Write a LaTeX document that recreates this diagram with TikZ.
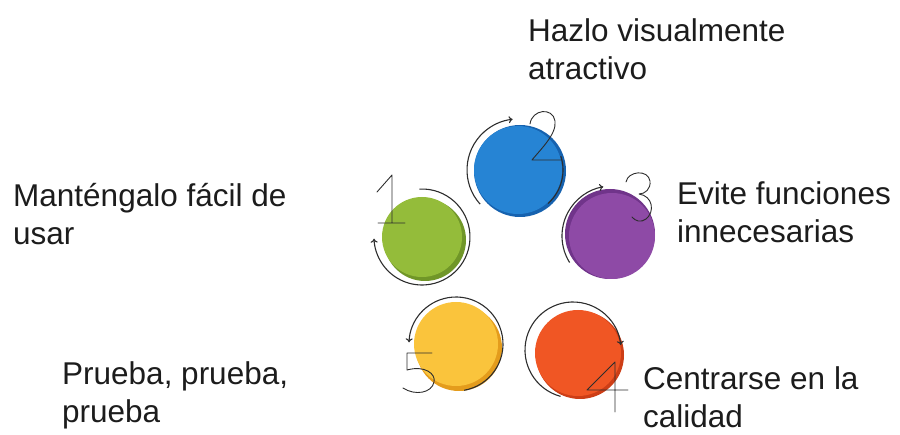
\documentclass[tikz,border=0pt]{standalone}
\usepackage{fontspec}
\setmainfont{Liberation Sans}
\usetikzlibrary{arrows.meta,calc}
\definecolor{cgreen}{RGB}{148,188,58}
\definecolor{cgreenD}{RGB}{112,150,40}
\definecolor{cblue}{RGB}{38,132,212}
\definecolor{cblueD}{RGB}{22,98,175}
\definecolor{cpurple}{RGB}{142,74,166}
\definecolor{cpurpleD}{RGB}{112,52,138}
\definecolor{cyellow}{RGB}{250,196,60}
\definecolor{cyellowD}{RGB}{228,156,28}
\definecolor{corange}{RGB}{240,86,36}
\definecolor{corangeD}{RGB}{205,62,22}
\definecolor{ink}{RGB}{45,45,45}
\definecolor{txt}{RGB}{28,28,28}
\tikzset{
  disc/.style={circle, inner sep=0pt, minimum size=#1},
  label text/.style={anchor=base west, align=left, inner sep=0pt, text=txt,
    font=\fontsize{31.5}{38}\selectfont},
  loop/.style={draw=ink, line width=1.1pt, -{To[length=4pt,width=7pt]}},
  digit/.style={draw=ink, line width=0.9pt, line join=round, line cap=round},
}
\begin{document}
\begin{tikzpicture}[x=1pt,y=-1pt]
\useasboundingbox (0,0) rectangle (900,435);
% shadows
\fill[cgreenD] (425,240) circle[radius=41pt];
\fill[cblueD] (520,171) circle[radius=46pt];
\fill[cpurpleD] (610,234) circle[radius=45pt];
\fill[cyellowD] (459,348) circle[radius=43pt];
\fill[corangeD] (580,355) circle[radius=44pt];
% discs
\node[disc=80pt, fill=cgreen] (c1) at (422,237) {};
\node[disc=88pt, fill=cblue] (c2) at (518,170) {};
\node[disc=86pt, fill=cpurple] (c3) at (612,236) {};
\node[disc=84pt, fill=cyellow] (c5) at (456,344) {};
\node[disc=86pt, fill=corange] (c4) at (578,353) {};
% loops
\draw[loop] ([shift={(93:48pt)}]c1.center) arc[start angle=93, end angle=-178, radius=48pt];
\draw[loop] ([shift={(222:51pt)}]c2.center) arc[start angle=222, end angle=96, radius=51pt];
\draw[ink, line width=1.1pt] ([shift={(18:45pt)}]c2.center) arc[start angle=18, end angle=-48, radius=45pt];
\draw[loop] ([shift={(212:50pt)}]c3.center) arc[start angle=212, end angle=100, radius=50pt];
\draw[loop] ([shift={(-80:47pt)}]c5.center) arc[start angle=-80, end angle=178, radius=47pt];
\draw[loop] ([shift={(255:48pt)}]$(c4.center)+(-5,-3)$) arc[start angle=255, end angle=6, radius=48pt];
% digits
\draw[digit] (377,192) -- (392,175) -- (392,223) (378,223) -- (405,223);
\draw[digit] (530,124) .. controls (532,109) and (553,107) .. (555,121) .. controls (557,134) and (540,150) .. (532,160) -- (561,160);
\draw[digit] (626,182) .. controls (628,171) and (648,169) .. (650,181) .. controls (651,189) and (645,194) .. (639,194) .. controls (653,196) and (655,212) .. (646,219) .. controls (641,223) and (635,221) .. (632,217);
\draw[digit] (432,353) -- (407,353) -- (407,370) .. controls (425,365) and (436,374) .. (434,382) .. controls (432,393) and (415,396) .. (403,388);
\draw[digit] (615,412) -- (615,362) -- (587,390) -- (628,390);
% labels (base anchor = baseline of the last line)
\node[label text] (t2) at (528,80) {Hazlo visualmente\\atractivo};
\node[label text] (t1) at (13,245) {Manténgalo fácil de\\usar};
\node[label text] (t3) at (677,243) {Evite funciones\\innecesarias};
\node[label text] (t5) at (62,423) {Prueba, prueba,\\prueba};
\node[label text] (t4) at (643,428) {Centrarse en la\\calidad};
\end{tikzpicture}
\end{document}
